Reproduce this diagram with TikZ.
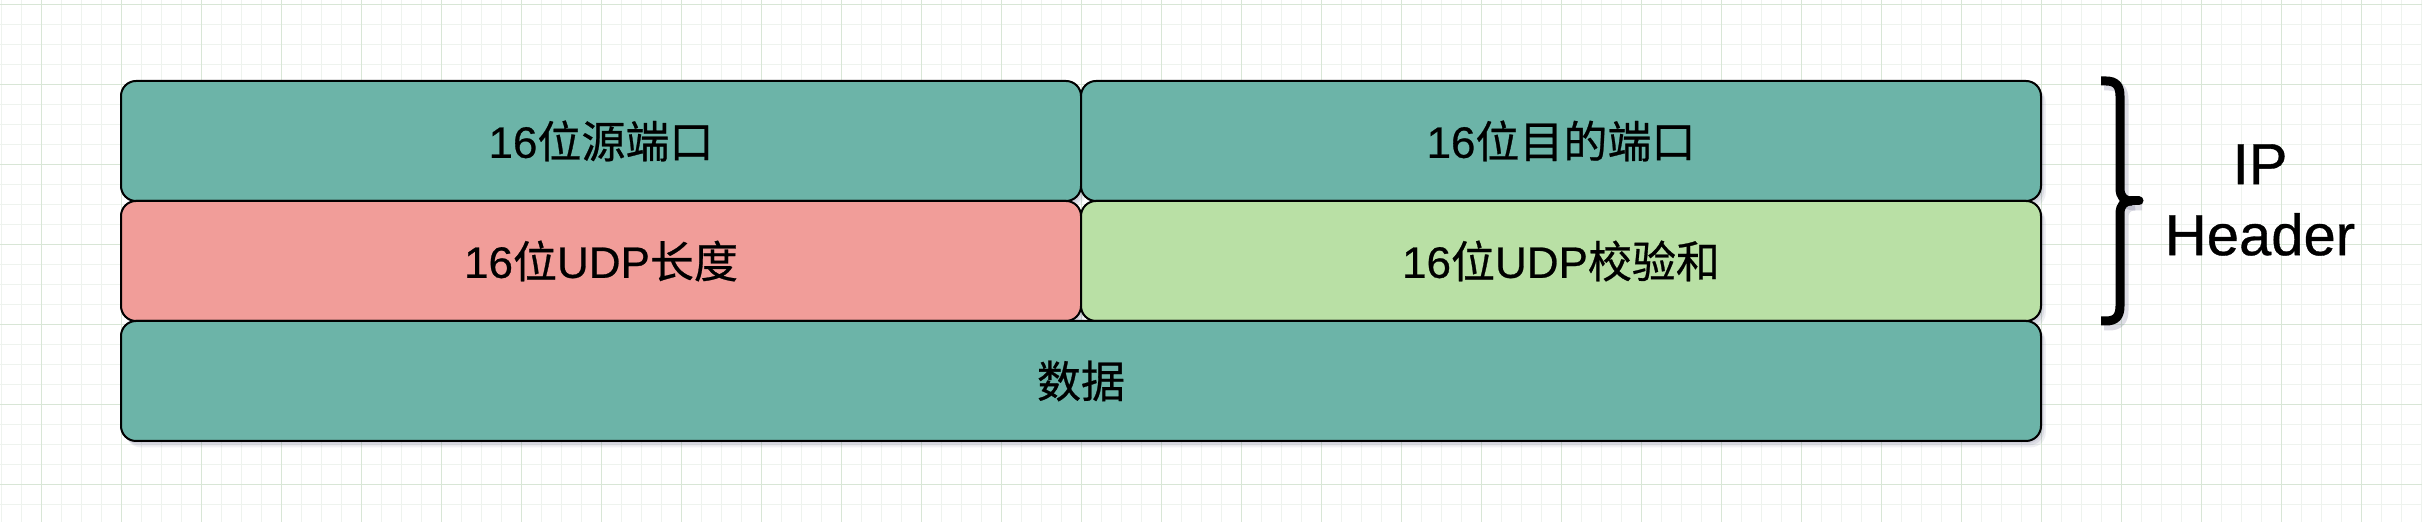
\documentclass[tikz,border=0pt]{standalone}
\usepackage{fontspec}
\setmainfont{Liberation Sans}[BoldFont={Liberation Sans}, BoldFeatures={FakeBold=0.6}]
\newfontfamily\cjk{Noto Sans CJK SC}[BoldFont={Noto Sans CJK SC}, BoldFeatures={FakeBold=0.6}]
\usetikzlibrary{shadows}
\definecolor{teal1}{RGB}{108,180,168}
\definecolor{pink1}{RGB}{241,157,153}
\definecolor{green1}{RGB}{185,224,165}
\definecolor{gmajor}{RGB}{216,230,214}
\definecolor{gminor}{RGB}{238,243,238}
\definecolor{shad}{RGB}{70,70,115}
\tikzset{
  softshadow/.style={
    general shadow={fill=shad,opacity=.10,shadow xshift=0.8pt,shadow yshift=-1.2pt},
    general shadow={fill=shad,opacity=.10,shadow xshift=1.6pt,shadow yshift=-2.2pt},
    general shadow={fill=shad,opacity=.08,shadow xshift=2.4pt,shadow yshift=-3.2pt}},
  field/.style={draw=black, line width=1pt, rounded corners=7.5pt,
    minimum width=480pt, minimum height=60pt, inner sep=0pt,
    font=\fontsize{22pt}{26pt}\selectfont\bfseries, softshadow},
  bracestroke/.style={line width=4.5pt, line cap=butt, line join=round},
  hdrtext/.style={align=center, font=\fontsize{29pt}{35.5pt}\selectfont\bfseries, inner sep=0pt}
}
\begin{document}
\begin{tikzpicture}[x=0.5pt,y=-0.5pt]
\useasboundingbox (0,0) rectangle (2422,522);
\fill[white] (0,0) rectangle (2422,522);
% grid
\foreach \i in {0,...,121} {\draw[gminor,line width=0.5pt] ({1.7+20*\i},0) -- ({1.7+20*\i},522);}
\foreach \j in {0,...,25} {\draw[gminor,line width=0.5pt] (0,{5+20*\j}) -- (2422,{5+20*\j});}
\foreach \i in {0,...,29} {\draw[gmajor,line width=0.5pt] ({41.7+80*\i},0) -- ({41.7+80*\i},522);}
\foreach \j in {0,...,6} {\draw[gmajor,line width=0.5pt] (0,{5+80*\j}) -- (2422,{5+80*\j});}
% fields
\node[field, fill=teal1] (src) at (601,141) {16{\cjk 位源端口}};
\node[field, fill=teal1] (dst) at (1561,141) {16{\cjk 位目的端口}};
\node[field, fill=pink1] (len) at (601,261) {16{\cjk 位}UDP{\cjk 长度}};
\node[field, fill=green1] (chk) at (1561,261) {16{\cjk 位}UDP{\cjk 校验和}};
\node[field, fill=teal1, minimum width=960pt] (data) at (1081,381) {{\cjk 数据}};
% brace shadow
\begin{scope}[shift={(3,4)}]
\draw[bracestroke, shad, opacity=.18, line width=5.5pt] (2101,81) -- (2106,81) .. controls (2116,81) and (2120,86) .. (2120,96) -- (2120,188) .. controls (2120,197) and (2124,201) .. (2132,201) -- (2139,201);
\draw[bracestroke, shad, opacity=.18, line width=5.5pt] (2132,201) .. controls (2124,201) and (2120,205) .. (2120,214) -- (2120,306) .. controls (2120,316) and (2116,321) .. (2106,321) -- (2101,321);
\end{scope}
% brace
\coordinate (btop) at (2101,81);
\coordinate (bbot) at (2101,321);
\coordinate (btip) at (2139,201);
\draw[bracestroke] (btop) -- (2106,81) .. controls (2116,81) and (2120,86) .. (2120,96) -- (2120,188) .. controls (2120,197) and (2124,201) .. (2132,201);
\draw[bracestroke] (2132,201) .. controls (2124,201) and (2120,205) .. (2120,214) -- (2120,306) .. controls (2120,316) and (2116,321) .. (2106,321) -- (bbot);
\draw[line width=4.5pt, line cap=round] (2131,201) -- (btip);
% header label
\node[hdrtext] (hdr) at (2260,200) {IP\\Header};
\end{tikzpicture}
\end{document}
